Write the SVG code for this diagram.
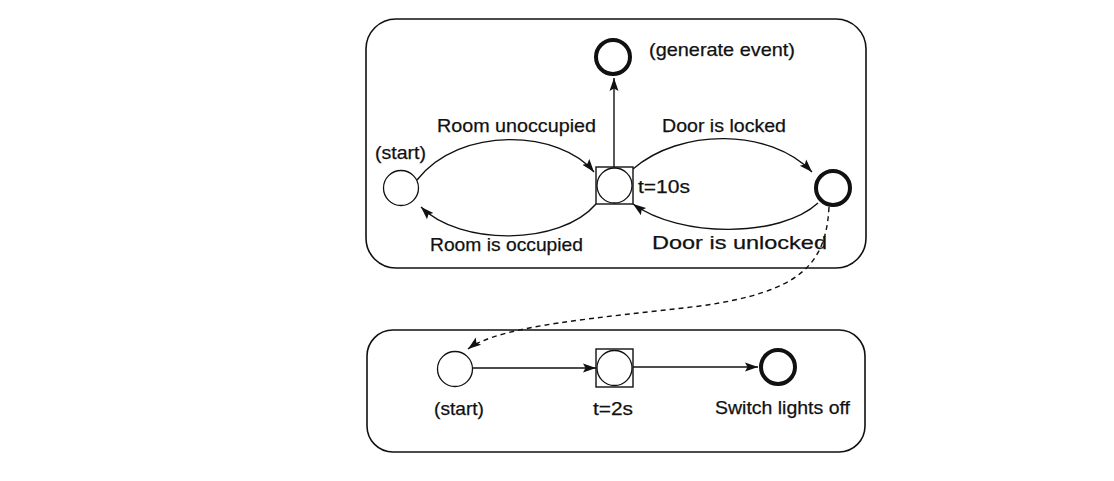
<svg xmlns="http://www.w3.org/2000/svg" width="1114" height="481" viewBox="0 0 1114 481">
<style>
.box{fill:none;stroke:#111;stroke-width:1.6}
.st{fill:#fff;stroke:#111;stroke-width:1.3}
.fin{fill:#fff;stroke:#111;stroke-width:4}
.sq{fill:#fff;stroke:#111;stroke-width:1.4}
.ln{fill:none;stroke:#111;stroke-width:1.4}
.dash{fill:none;stroke:#111;stroke-width:1.4;stroke-dasharray:5,4}
text{font-family:"Liberation Sans",Arial,sans-serif;font-size:19px;fill:#111;stroke:#111;stroke-width:0.25}
</style>
<defs>
<marker id="ah" markerWidth="15" markerHeight="11" refX="13" refY="5.5" orient="auto" markerUnits="userSpaceOnUse">
<path d="M0,1 L13,5.5 L0,10 L2.5,5.5 Z" fill="#111"/>
</marker>
</defs>
<rect width="1114" height="481" fill="#fff"/>
<g id="top-box"><rect class="box" x="366" y="19" width="500" height="249" rx="30"/></g>
<g id="bottom-box"><rect class="box" x="367" y="330" width="498" height="122" rx="26"/></g>
<g id="connectors">
<path class="ln" d="M614,167 L614,78" marker-end="url(#ah)"/>
<path class="ln" d="M417,180 C460,125 560,130 594,172" marker-end="url(#ah)"/>
<path class="ln" d="M596,204 C560,246 460,246 421,207" marker-end="url(#ah)"/>
<path class="ln" d="M633,169 C680,128 770,128 812,172" marker-end="url(#ah)"/>
<path class="ln" d="M818,203 C780,238 680,238 633,204" marker-end="url(#ah)"/>
<path class="dash" d="M829,207 C826,265 800,292 700,306 C600,318 500,325 468,349" marker-end="url(#ah)"/>
<path class="ln" d="M473,368 L596,368" marker-end="url(#ah)"/>
<path class="ln" d="M633,367 L758,367" marker-end="url(#ah)"/>
</g>
<g id="start1"><circle class="st" cx="401" cy="188" r="17.5"/><text x="375" y="159" textLength="51" lengthAdjust="spacingAndGlyphs">(start)</text></g>
<g id="timer1"><rect class="sq" x="596" y="167" width="37" height="37"/><circle class="st" cx="614.5" cy="185.5" r="17.5"/><text x="638" y="193" textLength="52" lengthAdjust="spacingAndGlyphs">t=10s</text></g>
<g id="generate"><circle class="fin" cx="613" cy="57" r="17"/><text x="649" y="56" textLength="146" lengthAdjust="spacingAndGlyphs">(generate event)</text></g>
<g id="locked"><circle class="fin" cx="833" cy="188" r="17"/></g>
<g id="labels-top">
<text x="437" y="132" textLength="159" lengthAdjust="spacingAndGlyphs">Room unoccupied</text>
<text x="662" y="132" textLength="124" lengthAdjust="spacingAndGlyphs">Door is locked</text>
<text x="430" y="251" textLength="153" lengthAdjust="spacingAndGlyphs">Room is occupied</text>
<text x="652" y="249" textLength="175" lengthAdjust="spacingAndGlyphs">Door is unlocked</text>
</g>
<g id="start2"><circle class="st" cx="455" cy="369" r="17.5"/><text x="434" y="415" textLength="50" lengthAdjust="spacingAndGlyphs">(start)</text></g>
<g id="timer2"><rect class="sq" x="596" y="349" width="37" height="38"/><circle class="st" cx="614.5" cy="368" r="17.5"/><text x="593" y="415" textLength="40" lengthAdjust="spacingAndGlyphs">t=2s</text></g>
<g id="switch-off"><circle class="fin" cx="778" cy="367" r="17"/><text x="715" y="414" textLength="135" lengthAdjust="spacingAndGlyphs">Switch lights off</text></g>
</svg>
